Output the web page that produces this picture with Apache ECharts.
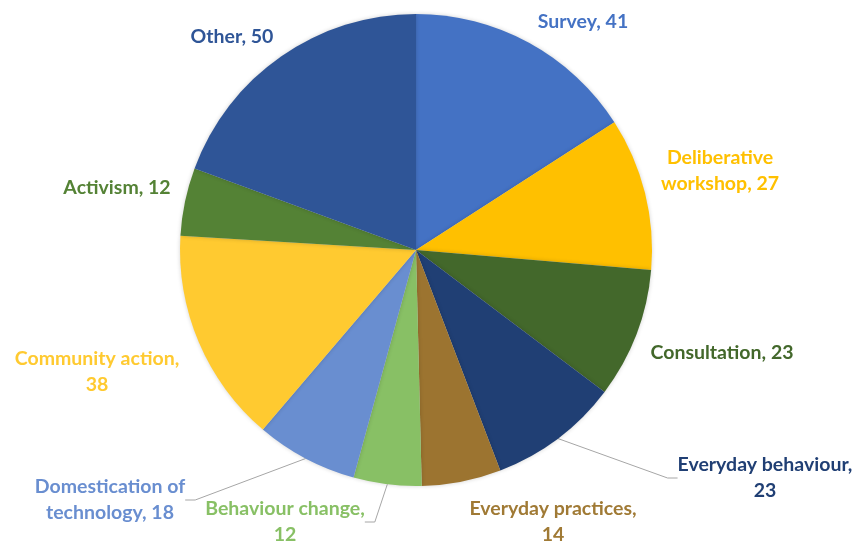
<!DOCTYPE html>
<html>
<head>
<meta charset="utf-8">
<script src="https://cdn.jsdelivr.net/npm/echarts@6/dist/echarts.min.js"></script>
<style>
  html, body { margin: 0; padding: 0; background: #fff; }
  #chart { width: 859px; height: 547px; }
</style>
</head>
<body>
<div id="chart"></div>
<script>
// 数据
const categories = ['Survey', 'Deliberative workshop', 'Consultation', 'Everyday behaviour', 'Everyday practices',
  'Behaviour change', 'Domestication of technology', 'Community action', 'Activism', 'Other']
const values = [41, 27, 23, 23, 14, 12, 18, 38, 12, 50]

// 扇区颜色 / 标签颜色
const sliceColors = ['#4472C4', '#FFC000', '#43682B', '#203F74', '#9C7430', '#88C065', '#698ED0', '#FFCA30', '#548235', '#2F5597']
const textColors = ['#4472C4', '#FFC000', '#43682B', '#203F74', '#A07A35', '#88C065', '#698ED0', '#FFCA30', '#548235', '#2F5597']
// 标签换行方式
const labelLines = [
  ['Survey, 41'],
  ['Deliberative', 'workshop, 27'],
  ['Consultation, 23'],
  ['Everyday behaviour,', '23'],
  ['Everyday practices,', '14'],
  ['Behaviour change,', '12'],
  ['Domestication of', 'technology, 18'],
  ['Community action,', '38'],
  ['Activism, 12'],
  ['Other, 50']
]
// 标签中心位置
const labelPos = [[583, 22], [720, 171], [722, 353], [765, 478], [553, 522], [285, 522], [110, 500], [97, 372], [117, 188], [232, 37]]
const withLine = [false, false, false, true, false, true, true, false, false, false]

const chart = echarts.init(document.getElementById('chart'))
const option = {
  animation: false,
  series: [
    {
      type: 'pie',
      center: [416, 250],
      radius: 236,
      startAngle: 90,
      clockwise: true,
      avoidLabelOverlap: false,
      itemStyle: { borderWidth: 0, shadowBlur: 4, shadowColor: 'rgba(0,0,0,0.18)' },
      emphasis: { disabled: true },
      label: {
        show: true,
        position: 'outside',
        fontFamily: 'Lato',
        fontWeight: 'bold',
        fontSize: 19.5,
        lineHeight: 26,
        formatter: p => labelLines[p.dataIndex].join('\n')
      },
      labelLine: { lineStyle: { color: '#A6A6A6', width: 1 }, length: 10, length2: 10 },
      labelLayout: p => ({
        x: labelPos[p.dataIndex][0],
        y: labelPos[p.dataIndex][1],
        align: 'center',
        verticalAlign: 'middle'
      }),
      data: categories.map((name, i) => ({
        name: name,
        value: values[i],
        itemStyle: { color: sliceColors[i] },
        label: { color: textColors[i] },
        labelLine: { show: withLine[i] }
      }))
    }
  ]
}
chart.setOption(option)
window.addEventListener('resize', function() {
  chart.resize()
})
</script>
</body>
</html>
